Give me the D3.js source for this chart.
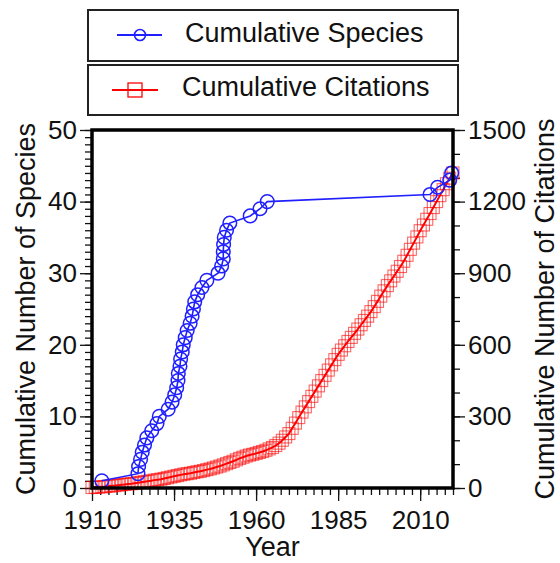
<!DOCTYPE html>
<html><head><meta charset="utf-8">
<script src="https://cdn.jsdelivr.net/npm/d3@7"></script>
<style>
body{margin:0;background:#fff}
text{font-family:"Liberation Sans",Arial,Helvetica,sans-serif;fill:#111}
</style>
</head><body>
<svg id="chart" width="560" height="563"></svg>
<script>
// ---- data ----
const speciesYears = [1913, 1924, 1924.2, 1924.8, 1925.3, 1926, 1926.7, 1928.2, 1929.8, 1930.5,
  1933.2, 1934.4, 1935.2, 1935.8, 1936.2, 1936.3, 1936.8, 1937, 1937.5, 1937.8,
  1938.4, 1939, 1939.9, 1940.5, 1940.9, 1941.3, 1942.2, 1943.5, 1945, 1948.4,
  1949.5, 1950, 1950, 1950.1, 1950.3, 1951, 1952, 1958.2, 1961.2, 1963.4,
  2013, 2015.3, 2019, 2019.6];
const speciesCounts = [1, 2, 3, 4, 5, 6, 7, 8, 9, 10,
  11, 12, 13, 14, 15, 16, 17, 18, 19, 20,
  21, 22, 23, 24, 25, 26, 27, 28, 29, 30,
  31, 32, 33, 34, 35, 36, 37, 38, 39, 40,
  41, 42, 43, 44];

const citationYears = [1910,1911,1912,1913,1914,1915,1916,1917,1918,1919,
  1920,1921,1922,1923,1924,1925,1926,1927,1928,1929,
  1930,1931,1932,1933,1934,1935,1936,1937,1938,1939,
  1940,1941,1942,1943,1944,1945,1946,1947,1948,1949,
  1950,1951,1952,1953,1954,1955,1956,1957,1958,1959,
  1960,1961,1962,1963,1964,1965,1966,1967,1968,1969,
  1970,1971,1972,1973,1974,1975,1976,1977,1978,1979,
  1980,1981,1982,1983,1984,1985,1986,1987,1988,1989,
  1990,1991,1992,1993,1994,1995,1996,1997,1998,1999,
  2000,2001,2002,2003,2004,2005,2006,2007,2008,2009,
  2010,2011,2012,2013,2014,2015,2016,2017,2018,2019,2020];
const citationCounts = [2,3,4,5,6,8,9,10,12,14,
  15,17,18,20,22,24,26,28,30,33,
  35,37,40,43,46,49,52,55,58,60,
  62,65,68,70,73,77,80,84,88,92,
  97,102,107,112,118,124,129,134,138,141,
  145,149,153,158,164,170,178,188,200,214,
  228,250,272,295,318,340,362,384,406,428,
  450,472,494,516,538,560,578,596,614,631,
  648,666,684,702,720,739,760,782,804,826,
  848,868,888,908,928,950,975,1000,1026,1052,
  1078,1102,1126,1150,1175,1200,1225,1250,1275,1298,1320];

const xTicks = [1910, 1935, 1960, 1985, 2010];
const leftTicks = [0, 10, 20, 30, 40, 50];
const rightTicks = [0, 300, 600, 900, 1200, 1500];
const legendLabels = ["Cumulative Species", "Cumulative Citations"];
const xTitle = "Year";
const leftTitle = "Cumulative Number of Species";
const rightTitle = "Cumulative Number of Citations";

// ---- layout ----
const svg = d3.select("#chart");
const L = 92, R = 453, T = 130, B = 488;
const FS = 26, TFS = 27;
const blue = "#1f1fff", red = "#ff0000";

const x = d3.scaleLinear().domain([1910, 2020]).range([L, R]);
const yL = d3.scaleLinear().domain([0, 50]).range([B, T]);
const yR = d3.scaleLinear().domain([0, 1500]).range([B, T]);

function styleAxis(g){
  g.select(".domain").remove();
  g.selectAll(".tick line").attr("stroke", "#111").attr("stroke-width", 1.3);
  g.selectAll("text").attr("font-size", FS).attr("fill", "#111")
    .style("font-family", '"Liberation Sans",Arial,sans-serif');
}

// minor ticks
svg.append("g").attr("transform", `translate(0,${B})`)
  .call(d3.axisBottom(x).tickValues(d3.range(1910, 2020.1, 2.5)).tickSize(7).tickFormat(""))
  .call(styleAxis);
svg.append("g").attr("transform", `translate(${L},0)`)
  .call(d3.axisLeft(yL).tickValues(d3.range(0, 50.1, 1)).tickSize(7).tickFormat(""))
  .call(styleAxis);
svg.append("g").attr("transform", `translate(${R},0)`)
  .call(d3.axisRight(yR).tickValues(d3.range(0, 1500.1, 100)).tickSize(7).tickFormat(""))
  .call(styleAxis);

// major ticks
const fmt = d3.format("d");
svg.append("g").attr("transform", `translate(0,${B})`)
  .call(d3.axisBottom(x).tickValues(xTicks).tickSize(13).tickPadding(10).tickFormat(fmt))
  .call(styleAxis);
svg.append("g").attr("transform", `translate(${L},0)`)
  .call(d3.axisLeft(yL).tickValues(leftTicks).tickSize(12).tickPadding(3).tickFormat(fmt))
  .call(styleAxis);
svg.append("g").attr("transform", `translate(${R},0)`)
  .call(d3.axisRight(yR).tickValues(rightTicks).tickSize(12).tickPadding(3).tickFormat(fmt))
  .call(styleAxis);

// citations
const citData = citationYears.map((d, i) => ({year: d, v: citationCounts[i]}));
svg.append("path").datum(citData)
  .attr("fill", "none").attr("stroke", red).attr("stroke-width", 2)
  .attr("d", d3.line().x(d => x(d.year)).y(d => yR(d.v)));
const sq = 12;
svg.append("g").selectAll("rect").data(citData).join("rect")
  .attr("x", d => x(d.year) - sq/2).attr("y", d => yR(d.v) - sq/2)
  .attr("width", sq).attr("height", sq)
  .attr("fill", "none").attr("stroke", red).attr("stroke-width", 1.1).attr("stroke-opacity", 0.6);

// species
const spData = speciesYears.map((d, i) => ({year: d, v: speciesCounts[i]}));
svg.append("path").datum(spData)
  .attr("fill", "none").attr("stroke", blue).attr("stroke-width", 1.6)
  .attr("d", d3.line().x(d => x(d.year)).y(d => yL(d.v)));
svg.append("g").selectAll("circle").data(spData).join("circle")
  .attr("cx", d => x(d.year)).attr("cy", d => yL(d.v)).attr("r", 6.8)
  .attr("fill", "none").attr("stroke", blue).attr("stroke-width", 1.5);

// frame
svg.append("rect").attr("x", L).attr("y", T).attr("width", R - L).attr("height", B - T)
  .attr("fill", "none").attr("stroke", "#000").attr("stroke-width", 3.5);

// titles
svg.append("text").attr("x", (L + R) / 2).attr("y", 556).attr("text-anchor", "middle")
  .attr("font-size", TFS).text(xTitle);
svg.append("text").attr("transform", `translate(35,${(T + B) / 2}) rotate(-90)`)
  .attr("text-anchor", "middle").attr("font-size", TFS).text(leftTitle);
svg.append("text").attr("transform", `translate(554,${(T + B) / 2}) rotate(-90)`)
  .attr("text-anchor", "middle").attr("font-size", TFS).text(rightTitle);

// legend
const lg = svg.append("g");
lg.append("rect").attr("x", 88).attr("y", 10).attr("width", 370).attr("height", 51)
  .attr("fill", "#fff").attr("stroke", "#222").attr("stroke-width", 2);
lg.append("rect").attr("x", 88).attr("y", 65).attr("width", 370).attr("height", 50)
  .attr("fill", "#fff").attr("stroke", "#222").attr("stroke-width", 2);
lg.append("line").attr("x1", 117).attr("x2", 162).attr("y1", 35).attr("y2", 35)
  .attr("stroke", blue).attr("stroke-width", 1.8);
lg.append("circle").attr("cx", 140).attr("cy", 35).attr("r", 5.5)
  .attr("fill", "none").attr("stroke", blue).attr("stroke-width", 1.6);
lg.append("line").attr("x1", 112).attr("x2", 158).attr("y1", 90).attr("y2", 90)
  .attr("stroke", red).attr("stroke-width", 1.8);
lg.append("rect").attr("x", 135 - 7).attr("y", 90 - 7).attr("width", 14).attr("height", 14)
  .attr("fill", "none").attr("stroke", red).attr("stroke-width", 1.3);
lg.append("text").attr("x", 185).attr("y", 42).attr("font-size", 27).text(legendLabels[0]);
lg.append("text").attr("x", 182).attr("y", 96).attr("font-size", 27).text(legendLabels[1]);
</script>
</body></html>
